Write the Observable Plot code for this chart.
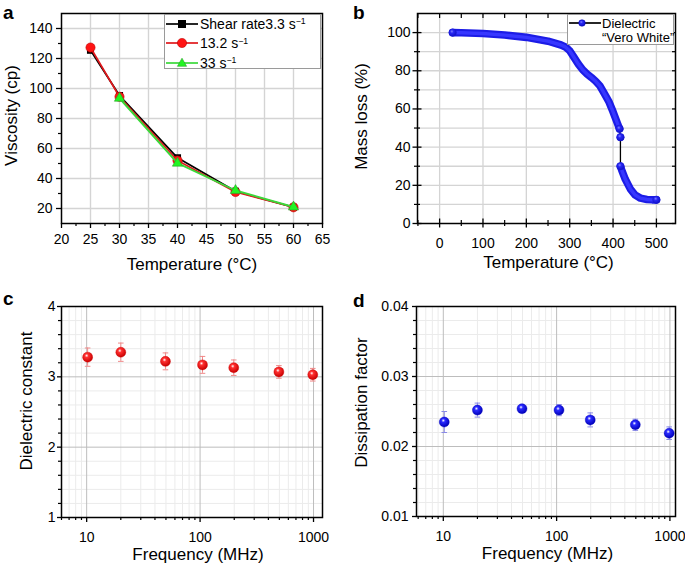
<!DOCTYPE html>
<html><head><meta charset="utf-8">
<script src="https://cdn.jsdelivr.net/npm/d3@7"></script>
<script src="https://cdn.jsdelivr.net/npm/@observablehq/plot@0.6"></script>
<style>
body{margin:0;background:#fff;}
#wrap{position:relative;width:685px;height:566px;font-family:"Liberation Sans",Arial,Helvetica,sans-serif;overflow:hidden;}
.letter{position:absolute;font-weight:bold;font-size:19px;line-height:1;}
.legend{position:absolute;background:#fff;border:1px solid #9a9a9a;box-sizing:border-box;}
.row{position:absolute;left:0;display:flex;align-items:center;white-space:nowrap;}
.row svg{flex:none;}
sup{font-size:0.62em;vertical-align:0;position:relative;top:-0.55em;}
</style></head><body>
<svg width="0" height="0" style="position:absolute">
  <defs>
    <radialGradient id="sphereRed" cx="0.4" cy="0.35" r="0.65">
      <stop offset="0" stop-color="#ffffff"/>
      <stop offset="0.28" stop-color="#ff3030"/>
      <stop offset="1" stop-color="#c80000"/>
    </radialGradient>
    <radialGradient id="sphereBlue" cx="0.4" cy="0.35" r="0.65">
      <stop offset="0" stop-color="#ffffff"/>
      <stop offset="0.28" stop-color="#2a2aff"/>
      <stop offset="1" stop-color="#0000b8"/>
    </radialGradient>
    <radialGradient id="beadBlue" cx="0.4" cy="0.35" r="0.65">
      <stop offset="0" stop-color="#8080ff"/>
      <stop offset="0.35" stop-color="#2828f4"/>
      <stop offset="1" stop-color="#1010c8"/>
    </radialGradient>
  </defs>
</svg>
<div id="wrap"></div>
<script>
// ---------- Panel a: viscosity ----------
const temperature = [25, 30, 40, 50, 60];
const viscRate3_3 = [125.5, 95.3, 53.8, 31.5, 20.8];
const viscRate13_2 = [127.3, 94.5, 52.0, 31.0, 20.8];
const viscRate33 = [null, 93.5, 50.2, 32.0, 21.0];
const aXTicks = [20, 25, 30, 35, 40, 45, 50, 55, 60, 65];
const aXMinor = [22.5, 27.5, 32.5, 37.5, 42.5, 47.5, 52.5, 57.5, 62.5];
const aYTicks = [20, 40, 60, 80, 100, 120, 140];
const aYMinor = [30, 50, 70, 90, 110, 130];

// ---------- Panel b: TGA ----------
const tgaTemp = [30, 50, 100, 150, 200, 250, 280, 290, 300, 310, 320, 330, 340, 350, 360, 370, 380, 390, 400, 410, 415, 417, 417, 420, 428, 440, 451, 463, 478, 490, 500];
const tgaMass = [100, 99.9, 99.5, 98.7, 97.5, 95.5, 93.5, 92.5, 90.5, 87, 83.5, 80.5, 78.3, 76.5, 74.5, 72, 68, 64, 58.5, 52.5, 49.6, 45.2, 30, 28, 23.3, 18, 14.9, 13.3, 12.6, 12.4, 12.4];
const tgaSegment = ["upper","upper","upper","upper","upper","upper","upper","upper","upper","upper","upper","upper","upper","upper","upper","upper","upper","upper","upper","upper","upper","jump","lower","lower","lower","lower","lower","lower","lower","lower","lower"];
const bXTicks = [0, 100, 200, 300, 400, 500];
const bXMinor = [-50, 50, 150, 250, 350, 450];
const bYTicks = [0, 20, 40, 60, 80, 100];
const bYMinor = [10, 30, 50, 70, 90];
const bYGrid = [10, 20, 30, 40, 50, 60, 70, 80, 90, 100];

// ---------- Panels c & d: dielectric ----------
const frequency = [10.2, 20, 49.5, 105, 198, 495, 985];
const dielConst = [3.28, 3.35, 3.22, 3.17, 3.13, 3.07, 3.03];
const dielConstErr = [0.13, 0.13, 0.12, 0.12, 0.11, 0.09, 0.09];
const dissFactor = [0.0235, 0.0252, 0.0254, 0.0252, 0.0238, 0.0231, 0.0219];
const dissFactorErr = [0.0015, 0.001, 0.0004, 0.0008, 0.001, 0.0008, 0.0009];
const fTicks = [10, 100, 1000];
const fMinor = [6, 7, 8, 9, 20, 30, 40, 50, 60, 70, 80, 90, 200, 300, 400, 500, 600, 700, 800, 900];
const cYTicks = [1, 2, 3, 4];
const cYMinor = [1.2, 1.4, 1.6, 1.8, 2.2, 2.4, 2.6, 2.8, 3.2, 3.4, 3.6, 3.8];
const dYTicks = [0.01, 0.02, 0.03, 0.04];
const dYMinor = [0.012, 0.014, 0.016, 0.018, 0.022, 0.024, 0.026, 0.028, 0.032, 0.034, 0.036, 0.038];

const FONT = '"Liberation Sans", Arial, Helvetica, sans-serif';
const style = {fontFamily: FONT, fontSize: "14px", color: "black", background: "transparent", overflow: "visible"};
const wrap = document.getElementById("wrap");
const blank = () => "";
function place(el, left, top) {
  el.style.position = "absolute";
  el.style.left = left + "px";
  el.style.top = top + "px";
  wrap.appendChild(el);
}
const capSymbol = {draw(ctx, size) { const w = Math.sqrt(size / Math.PI); ctx.moveTo(-w, 0); ctx.lineTo(w, 0); }};
const xTitle = (t, dx, dy) => Plot.text([t], {text: d => d, frameAnchor: "bottom", textAnchor: "middle", lineAnchor: "top", dx, dy, fontSize: 17});
const yTitle = (t, dx, dy) => Plot.text([t], {text: d => d, frameAnchor: "left", textAnchor: "middle", lineAnchor: "middle", rotate: -90, dx, dy, fontSize: 17});

// ---------- Panel a ----------
const rowsA = (vals) => temperature.map((t, i) => ({t, v: vals[i]})).filter(d => d.v != null);
const aBlack = rowsA(viscRate3_3), aRed = rowsA(viscRate13_2), aGreen = rowsA(viscRate33);
const plotA = Plot.plot({
  width: 340, height: 280, marginLeft: 61, marginRight: 18, marginTop: 13, marginBottom: 57,
  style,
  x: {domain: [20, 65]}, y: {domain: [10, 150]},
  marks: [
    Plot.gridX(aXTicks.slice(1, -1), {stroke: "#d4d4d4", strokeOpacity: 1, strokeWidth: 1.4}),
    Plot.gridY(aYTicks, {stroke: "#d4d4d4", strokeOpacity: 1, strokeWidth: 1.4}),
    Plot.axisX(aXTicks, {tickSize: 5, tickPadding: 6, label: null, strokeWidth: 1.3}),
    Plot.axisX(aXMinor, {tickSize: 3, tickFormat: blank, label: null, strokeWidth: 1.2}),
    Plot.axisY(aYTicks, {tickSize: 5, tickPadding: 4, label: null, strokeWidth: 1.3}),
    Plot.axisY(aYMinor, {tickSize: 3, tickFormat: blank, label: null, strokeWidth: 1.2}),
    Plot.line(aBlack, {x: "t", y: "v", stroke: "black", strokeWidth: 1.7}),
    Plot.dot(aBlack, {x: "t", y: "v", symbol: "square", r: 4, fill: "black"}),
    Plot.line(aRed, {x: "t", y: "v", stroke: "#e0181c", strokeWidth: 1.7}),
    Plot.dot(aRed, {x: "t", y: "v", r: 4.6, fill: "#ff1414", stroke: "#c00000", strokeWidth: 0.6}),
    Plot.line(aGreen, {x: "t", y: "v", stroke: "#3ad83a", strokeWidth: 1.9}),
    Plot.dot(aGreen, {x: "t", y: "v", symbol: "triangle", r: 3.8, fill: "#22f522", stroke: "#2aa02a", strokeWidth: 0.6}),
    Plot.frame({stroke: "black", strokeWidth: 1.5}),
    xTitle("Temperature (°C)", 0, 34),
    yTitle("Viscosity (cp)", -50, -3)
  ]
});
place(plotA, 0, 0);

// ---------- Panel b ----------
const tga = tgaTemp.map((t, i) => ({t, m: tgaMass[i], seg: tgaSegment[i]}));
const tgaEnds = tga.filter((d, i) => i === 0 || i === tga.length - 1 || d.seg === "jump" || (i > 0 && tga[i - 1].seg !== d.seg) || (i < tga.length - 1 && tga[i + 1].seg !== d.seg));
const plotB = Plot.plot({
  width: 345, height: 280, marginLeft: 77, marginRight: 10, marginTop: 13, marginBottom: 57,
  style,
  x: {domain: [-51, 544]}, y: {domain: [0, 110]},
  marks: [
    Plot.gridX(bXTicks, {stroke: "#d4d4d4", strokeOpacity: 1, strokeWidth: 1.3}),
    Plot.gridY(bYGrid, {stroke: "#d4d4d4", strokeOpacity: 1, strokeWidth: 1.3}),
    Plot.axisX(bXTicks, {tickSize: 9, dy: -4.5, tickFormat: blank, label: null, strokeWidth: 1.3}),
    Plot.axisX(bXMinor, {tickSize: 6, dy: -3, tickFormat: blank, label: null, strokeWidth: 1.2}),
    Plot.axisX(bXTicks, {tickSize: 0, tickPadding: 15, label: null}),
    Plot.axisX(bXTicks.concat(bXMinor), {anchor: "top", tickSize: 4, dy: 4, tickFormat: blank, label: null, strokeWidth: 1.2}),
    Plot.axisY(bYTicks, {tickSize: 9, dx: 4.5, tickFormat: blank, label: null, strokeWidth: 1.3}),
    Plot.axisY(bYMinor, {tickSize: 6, dx: 3, tickFormat: blank, label: null, strokeWidth: 1.2}),
    Plot.axisY(bYTicks, {tickSize: 0, tickPadding: 7, label: null}),
    Plot.axisY(bYTicks.concat(bYMinor), {anchor: "right", tickSize: 4, dx: -4, tickFormat: blank, label: null, strokeWidth: 1.2}),
    Plot.line(tga, {x: "t", y: "m", stroke: "black", strokeWidth: 1.3}),
    Plot.line(tga, {x: "t", y: "m", z: "seg", stroke: "#1c1ce6", strokeWidth: 7.6, strokeLinecap: "round", strokeLinejoin: "round"}),
    Plot.line(tga, {x: "t", y: "m", z: "seg", stroke: "#3636ff", strokeWidth: 3.4, strokeLinecap: "round", strokeLinejoin: "round"}),
    Plot.dot(tgaEnds, {x: "t", y: "m", r: 3.8, fill: "url(#beadBlue)", stroke: "#1818d0", strokeWidth: 0.5}),
    Plot.frame({stroke: "black", strokeWidth: 1.5}),
    xTitle("Temperature (°C)", 2, 32),
    yTitle("Mass loss (%)", -56, -2)
  ]
});
place(plotB, 340, 0);

// ---------- Panel c ----------
const rowsC = frequency.map((f, i) => ({f, v: dielConst[i], e: dielConstErr[i]}));
const plotC = Plot.plot({
  width: 340, height: 286, marginLeft: 61, marginRight: 18, marginTop: 26, marginBottom: 49,
  style,
  x: {type: "log", domain: [6, 1200]}, y: {domain: [1, 4]},
  marks: [
    Plot.gridX(fMinor, {stroke: "#ebebeb", strokeOpacity: 1, strokeWidth: 1}),
    Plot.gridY(cYMinor, {stroke: "#ebebeb", strokeOpacity: 1, strokeWidth: 1}),
    Plot.gridX(fTicks, {stroke: "#bdbdbd", strokeOpacity: 1, strokeWidth: 1}),
    Plot.gridY(cYTicks, {stroke: "#bdbdbd", strokeOpacity: 1, strokeWidth: 1}),
    Plot.axisX(fTicks, {tickSize: 5, tickPadding: 10, tickFormat: d => String(d), label: null, strokeWidth: 1.3}),
    Plot.axisX(fMinor, {tickSize: 3, tickFormat: blank, label: null, strokeWidth: 1.2}),
    Plot.axisY(cYTicks, {tickSize: 4, tickPadding: 2, tickFormat: d => String(d), label: null, strokeWidth: 1.3}),
    Plot.axisY(cYMinor, {tickSize: 3, tickFormat: blank, label: null, strokeWidth: 1.2}),
    Plot.ruleX(rowsC, {x: "f", y1: d => d.v - d.e, y2: d => d.v + d.e, stroke: "#f08a8a", strokeWidth: 1}),
    Plot.dot(rowsC, {x: "f", y: d => d.v + d.e, symbol: capSymbol, r: 2.8, fill: "none", stroke: "#f08a8a", strokeWidth: 1}),
    Plot.dot(rowsC, {x: "f", y: d => d.v - d.e, symbol: capSymbol, r: 2.8, fill: "none", stroke: "#f08a8a", strokeWidth: 1}),
    Plot.dot(rowsC, {x: "f", y: "v", r: 5, fill: "url(#sphereRed)", stroke: "#d00000", strokeWidth: 0.4}),
    Plot.frame({stroke: "black", strokeWidth: 1.5}),
    xTitle("Frequency (MHz)", 6, 30),
    yTitle("Dielectric constant", -35, -11)
  ]
});
place(plotC, 0, 280);

// ---------- Panel d ----------
const rowsD = frequency.map((f, i) => ({f, v: dissFactor[i], e: dissFactorErr[i]}));
const plotD = Plot.plot({
  width: 345, height: 286, marginLeft: 76, marginRight: 10, marginTop: 26, marginBottom: 50,
  style,
  x: {type: "log", domain: [5.8, 1120]}, y: {domain: [0.01, 0.04]},
  marks: [
    Plot.gridX(fMinor, {stroke: "#ebebeb", strokeOpacity: 1, strokeWidth: 1}),
    Plot.gridY(dYMinor, {stroke: "#ebebeb", strokeOpacity: 1, strokeWidth: 1}),
    Plot.gridX(fTicks, {stroke: "#bdbdbd", strokeOpacity: 1, strokeWidth: 1}),
    Plot.gridY(dYTicks, {stroke: "#bdbdbd", strokeOpacity: 1, strokeWidth: 1}),
    Plot.axisX(fTicks, {tickSize: 5, tickPadding: 10, tickFormat: d => String(d), label: null, strokeWidth: 1.3}),
    Plot.axisX(fMinor, {tickSize: 3, tickFormat: blank, label: null, strokeWidth: 1.2}),
    Plot.axisY(dYTicks, {tickSize: 4, tickPadding: 4, tickFormat: d3.format(".2f"), label: null, strokeWidth: 1.3}),
    Plot.axisY(dYMinor, {tickSize: 3, tickFormat: blank, label: null, strokeWidth: 1.2}),
    Plot.ruleX(rowsD, {x: "f", y1: d => d.v - d.e, y2: d => d.v + d.e, stroke: "#8a8ae6", strokeWidth: 1}),
    Plot.dot(rowsD, {x: "f", y: d => d.v + d.e, symbol: capSymbol, r: 2.8, fill: "none", stroke: "#8a8ae6", strokeWidth: 1}),
    Plot.dot(rowsD, {x: "f", y: d => d.v - d.e, symbol: capSymbol, r: 2.8, fill: "none", stroke: "#8a8ae6", strokeWidth: 1}),
    Plot.dot(rowsD, {x: "f", y: "v", r: 5, fill: "url(#sphereBlue)", stroke: "#0000c0", strokeWidth: 0.4}),
    Plot.frame({stroke: "black", strokeWidth: 1.5}),
    xTitle("Frequency (MHz)", 1.5, 30),
    yTitle("Dissipation factor", -55, -9)
  ]
});
place(plotD, 340, 280);

// ---------- Panel letters ----------
[["a", 3, 3], ["b", 353, 3], ["c", 3, 289], ["d", 353, 291]].forEach(([t, x, y]) => {
  const el = document.createElement("div");
  el.className = "letter"; el.textContent = t;
  el.style.left = x + "px"; el.style.top = y + "px";
  wrap.appendChild(el);
});

// ---------- Legends ----------
const ns = "http://www.w3.org/2000/svg";
function sample(lineColor, marker) {
  return `<svg width="34" height="12" xmlns="${ns}"><line x1="1" x2="33" y1="6" y2="6" stroke="${lineColor}" stroke-width="1.7"/>${marker}</svg>`;
}
const legendA = document.createElement("div");
legendA.className = "legend";
Object.assign(legendA.style, {left: "164px", top: "14px", width: "157px", height: "55px", fontSize: "14px"});
const legA = [
  {html: "Shear rate3.3 s<sup>−1</sup>", line: "black", marker: `<rect x="13" y="2" width="8" height="8" fill="black"/>`},
  {html: "13.2 s<sup>−1</sup>", line: "#e0181c", marker: `<circle cx="17" cy="6" r="4.6" fill="#ff1414" stroke="#c00000" stroke-width="0.6"/>`},
  {html: "33 s<sup>−1</sup>", line: "#3ad83a", marker: `<path d="M17,1.2 L21.6,9.3 L12.4,9.3 Z" fill="#22f522" stroke="#2aa02a" stroke-width="0.6"/>`}
];
legA.forEach((d, i) => {
  const r = document.createElement("div");
  r.className = "row";
  r.style.top = (2 + i * 19.3) + "px";
  r.style.height = "14px";
  r.innerHTML = sample(d.line, d.marker) + `<span style="margin-left:1px">${d.html}</span>`;
  legendA.appendChild(r);
});
wrap.appendChild(legendA);

const legendB = document.createElement("div");
legendB.className = "legend";
Object.assign(legendB.style, {left: "567px", top: "14px", width: "107px", height: "31px", fontSize: "13px"});
legendB.innerHTML = `<div class="row" style="top:1px;height:14px">${sample("black", `<circle cx="14" cy="6" r="3.3" fill="url(#beadBlue)" stroke="#0000b0" stroke-width="0.5"/>`)}<span>Dielectric</span></div>
<div class="row" style="top:15px;height:14px;left:34px"><span>“Vero White”</span></div>`;
wrap.appendChild(legendB);
</script>
</body></html>
